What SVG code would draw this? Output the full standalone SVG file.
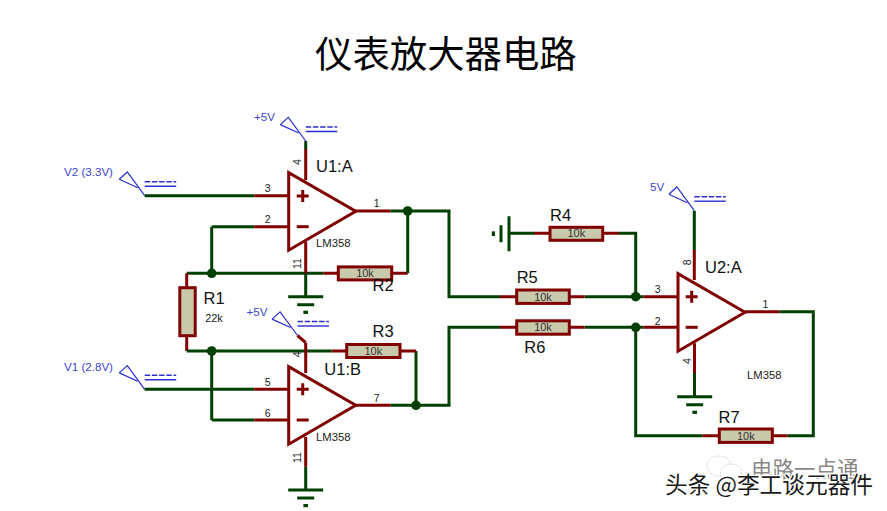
<svg xmlns="http://www.w3.org/2000/svg" width="887" height="511" viewBox="0 0 887 511">
<style>
text{font-family:"Liberation Sans",Arial,sans-serif;fill:#222}
.g,.r,.o{fill:none;stroke-width:3}
.g{stroke:#004000}
.r{stroke:#800000}
.o{stroke:#800000;fill:#fff;stroke-linejoin:miter}
.res{fill:#c9c9ab;stroke:#800000;stroke-width:3}
.dot{fill:#004000}
.b{fill:none;stroke:#2a2fd0;stroke-width:1.2}
.bs{fill:none;stroke:#2a2fd0;stroke-width:1.4}
.bd{fill:none;stroke:#2a2fd0;stroke-width:1.4;stroke-dasharray:5.5 1.7}
.bl{font-size:11.6px;fill:#3b45cf}
.pin{font-size:10.5px;fill:#222}
.ref{font-size:16.5px;fill:#111}
.val{font-size:11px;fill:#333;text-anchor:middle}
.part{font-size:11.3px;fill:#222}
.cjk{font-family:"Noto Sans CJK SC","Liberation Sans",sans-serif}
</style>
<defs>
<g id="gnd">
<path class="g" d="M-17.500 0H17.500M-8.500 8H8.500"/>
<rect class="dot" x="-2.300" y="14" width="4.600" height="3.200"/>
</g>
<g id="term">
<path class="b" d="M-25.400 -16.400L-17.400 -23.700L0 0"/>
<path class="b" d="M-25.400 -16.400L-7 -8"/>
<path class="bd" d="M0 -14H31.500"/>
<path class="bs" d="M0 -9.500H31.500"/>
</g>
<path id="amp" class="o" d="M0 0V77.500L67 38.500Z"/>
<path id="pm" d="M-6 0H6M0 -6V6" stroke="#800000" stroke-width="3" fill="none"/>
<path id="mi" d="M-6 0H6" stroke="#800000" stroke-width="3" fill="none"/>
</defs>

<text id="title" class="cjk" x="315" y="68" font-size="37.400" style="fill:#000">仪表放大器电路</text>

<g id="connectors">
<path class="g" d="M144.700 195.700H254.300M211.700 226.700H254.300M211.700 226.700V273.300M186.700 273.300H323.300M305.700 273.300V296.700M305.700 141V149"/>
<path class="r" d="M254.300 195.700H288.700M254.300 226.700H288.700M305.700 149V180M305.700 241.700V273.300M323.300 273.300H338.300M391.700 273.300H407.700M355.300 211H390.700M186.700 273.300V287.700"/>
<path class="g" d="M390.700 211H449V296.700H500M407.700 211V273.300"/>
<path class="r" d="M186.700 335.700V351"/>
<path class="g" d="M186.700 351H331.700M211.700 351V420M144.700 389.300H254.300M211.700 420H254.300M305.700 466.700V490M390.700 405.300H449V327.300H500M416 351V405.300"/>
<path class="r" d="M331.700 351H346.700M400 351H416M254.300 389.300H288.700M254.300 420H288.700M305.700 342.700V373M305.700 436.700V466.700M356 405.300H390.700"/>
<path class="g" d="M509 233.300H534M619 233.300H635.700V296.700M584.700 296.700H643.300M584.700 327.300H643.300M635.700 327.300V435.700H702.700M694.300 210.700V250M694.500 373V396.700M779.300 311.700H813.300V435.700H787.700"/>
<path class="r" d="M534 233.300H550M602.700 233.300H619M500 296.700H516.700M569.300 296.700H584.700M500 327.300H516.700M569.300 327.300H584.700M643.300 296.700H678M643.300 327.300H678M694.300 250V280M694.500 343.300V373M745.300 311.700H779.300M702.700 435.700H719.300M772.300 435.700H787.700"/>
<circle class="dot" cx="407.700" cy="211" r="4.800"/>
<circle class="dot" cx="211.700" cy="273.300" r="4.800"/>
<circle class="dot" cx="211.700" cy="351" r="4.800"/>
<circle class="dot" cx="416" cy="405.300" r="4.800"/>
<circle class="dot" cx="635.700" cy="296.700" r="4.800"/>
<circle class="dot" cx="635.700" cy="327.300" r="4.800"/>
</g>

<g id="U1A">
<use href="#amp" x="288.700" y="172.700"/>
<use href="#pm" x="302.700" y="196"/>
<use href="#mi" x="302.700" y="226.700"/>
<text class="pin" x="264.800" y="192">3</text>
<text class="pin" x="264.800" y="223">2</text>
<text class="pin" x="373.800" y="207">1</text>
<text class="pin" transform="translate(301 165) rotate(-90)">4</text>
<text class="pin" transform="translate(301 269) rotate(-90)">11</text>
<text class="ref" x="316" y="172.300">U1:A</text>
<text class="part" x="316" y="247">LM358</text>
</g>
<g id="U1B">
<use href="#amp" x="288.700" y="366.700"/>
<use href="#pm" x="302.700" y="389.300"/>
<use href="#mi" x="302.700" y="420"/>
<text class="pin" x="264.800" y="385.500">5</text>
<text class="pin" x="264.800" y="416.500">6</text>
<text class="pin" x="373.800" y="401.500">7</text>
<text class="pin" transform="translate(301 357.300) rotate(-90)">4</text>
<text class="pin" transform="translate(301 463) rotate(-90)">11</text>
<text class="ref" x="324.300" y="375">U1:B</text>
<text class="part" x="316" y="441">LM358</text>
</g>
<g id="U2A">
<use href="#amp" x="678" y="273.700"/>
<use href="#pm" x="691.700" y="296.700"/>
<use href="#mi" x="691.700" y="327.300"/>
<text class="pin" x="654.800" y="293">3</text>
<text class="pin" x="654.800" y="324.500">2</text>
<text class="pin" x="762.400" y="308">1</text>
<text class="pin" transform="translate(690.500 265.300) rotate(-90)">8</text>
<text class="pin" transform="translate(690.500 364) rotate(-90)">4</text>
<text class="ref" x="705" y="273.300">U2:A</text>
<text class="part" x="747" y="379" font-size="10.500">LM358</text>
</g>

<g id="R1"><rect class="res" x="179.800" y="287.700" width="15.400" height="48"/><text class="ref" x="203.500" y="304.300">R1</text><text class="val" x="214" y="321.700" style="fill:#222">22k</text></g>
<g id="R2"><rect class="res" x="338.300" y="266.900" width="53.400" height="13"/><text class="val" x="365" y="276.500">10k</text><text class="ref" x="372.500" y="291">R2</text></g>
<g id="R3"><rect class="res" x="346.700" y="344.500" width="53.300" height="13"/><text class="val" x="373.300" y="354.500">10k</text><text class="ref" x="372.500" y="337.300">R3</text></g>
<g id="R4"><rect class="res" x="550" y="227.300" width="52.700" height="13"/><text class="val" x="576.300" y="237.300">10k</text><text class="ref" x="550" y="221">R4</text></g>
<g id="R5"><rect class="res" x="516.700" y="290" width="52.600" height="13.400"/><text class="val" x="543" y="300.500">10k</text><text class="ref" x="516.700" y="283.300">R5</text></g>
<g id="R6"><rect class="res" x="516.700" y="320.800" width="52.600" height="13.400"/><text class="val" x="543" y="330.500">10k</text><text class="ref" x="524.300" y="352.700">R6</text></g>
<g id="R7"><rect class="res" x="719.300" y="429" width="53" height="13.400"/><text class="val" x="745.800" y="439.500">10k</text><text class="ref" x="718.500" y="423.300">R7</text></g>

<g id="GND1"><use href="#gnd" x="305.700" y="296.700"/></g>
<g id="GND2"><use href="#gnd" x="305.700" y="490"/></g>
<g id="GND3"><use href="#gnd" x="694.700" y="396.700"/></g>
<g id="GND4"><use href="#gnd" transform="translate(509 233.700) rotate(90)"/></g>

<g id="T5V1"><use href="#term" x="305.700" y="141"/><text class="bl" x="254" y="121">+5V</text></g>
<g id="T5V2"><use href="#term" x="297.500" y="335.500"/><path class="r" d="M297.500 335.500L305.700 342.700"/><text class="bl" x="246.500" y="316">+5V</text></g>
<g id="T5V3"><use href="#term" x="694.300" y="210.700"/><text class="bl" x="650" y="191">5V</text></g>
<g id="TV2"><use href="#term" x="144.700" y="195.700"/><text class="bl" x="64" y="176">V2 (3.3V)</text></g>
<g id="TV1"><use href="#term" x="144.700" y="389.300"/><text class="bl" x="64" y="370.500">V1 (2.8V)</text></g>

<g id="watermark">
<ellipse cx="719" cy="466" rx="12" ry="10" fill="#fff" stroke="#ccc" stroke-dasharray="1.500 1.500"/>
<ellipse cx="731" cy="473" rx="10.500" ry="9" fill="#fff" stroke="#ccc" stroke-dasharray="1.500 1.500"/>
<text class="cjk" x="751" y="477" font-size="21.500" style="fill:#888">电路一点通</text>
<text class="cjk" x="665" y="493" font-size="22.700" style="fill:#1a1a1a;stroke:#fff;stroke-width:2.500;paint-order:stroke">头条 @李工谈元器件</text>
</g>
</svg>
